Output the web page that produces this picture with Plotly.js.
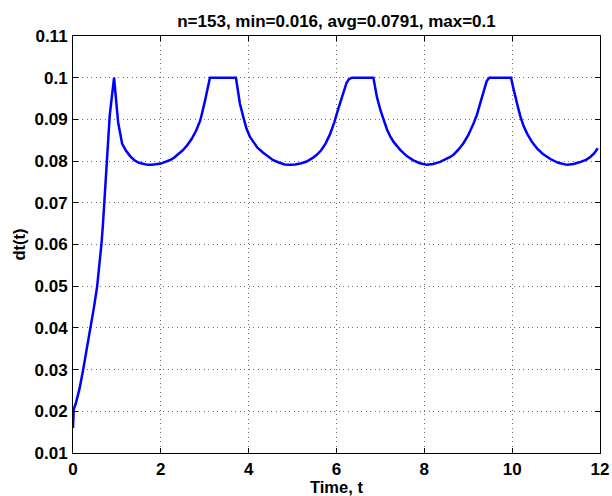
<!DOCTYPE html>
<html>
<head>
<meta charset="utf-8">
<script src="https://cdn.plot.ly/plotly-3.0.1.min.js"></script>
<style>
  html, body { margin: 0; padding: 0; background: #ffffff; }
  #chart { width: 612px; height: 496px; }
</style>
</head>
<body>
<div id="chart"></div>
<script>
// Time values (t)
var timeT = [
  0, 0.016, 0.062, 0.1, 0.15, 0.228, 0.31, 0.397, 0.475, 0.548, 0.60, 0.647, 0.68, 0.708, 0.738, 0.837, 0.935,
  1.026, 1.118, 1.2, 1.3, 1.4, 1.5, 1.6, 1.7, 1.8, 1.9, 2.0, 2.1, 2.2, 2.3, 2.4, 2.5, 2.6, 2.7, 2.8, 2.9, 3.0, 3.06, 3.118,
  3.71, 3.76, 3.80, 3.877, 3.95, 4.03, 4.1, 4.2, 4.33, 4.45, 4.56, 4.7, 4.82, 4.94, 5.06, 5.2, 5.32, 5.45, 5.55, 5.65, 5.75, 5.85, 5.95, 6.04, 6.14, 6.23, 6.28, 6.35,
  6.84, 6.88, 6.92, 7.0, 7.07, 7.15, 7.22, 7.3, 7.45, 7.6, 7.75, 7.9, 8.06, 8.2, 8.36, 8.5, 8.59, 8.67, 8.78, 8.89, 9.0, 9.12, 9.2, 9.27, 9.32, 9.37, 9.42, 9.48,
  9.975, 10.02, 10.07, 10.13, 10.19, 10.26, 10.34, 10.45, 10.57, 10.7, 10.87, 11.05, 11.25, 11.4, 11.56, 11.68, 11.78, 11.87, 11.95
];
// Step size dt(t)
var stepDt = [
  0.016, 0.0205, 0.0218, 0.0235, 0.0255, 0.0298, 0.0345, 0.0398, 0.0448, 0.0498, 0.0545, 0.060, 0.0645, 0.0698, 0.073, 0.091, 0.1,
  0.0894, 0.0842, 0.0826, 0.0812, 0.0802, 0.0796, 0.0793, 0.0791, 0.0791, 0.0792, 0.0794, 0.0798, 0.0802, 0.0808, 0.0816, 0.0826, 0.0838, 0.0853, 0.0872, 0.0898, 0.0942, 0.0968, 0.1,
  0.1, 0.0965, 0.0938, 0.0906, 0.0878, 0.0858, 0.0846, 0.0832, 0.082, 0.081, 0.0802, 0.0796, 0.0792, 0.0791, 0.0792, 0.0795, 0.0799, 0.0807, 0.0815, 0.0826, 0.0842, 0.0864, 0.0893, 0.0925, 0.0958, 0.0988, 0.0996, 0.1,
  0.1, 0.0978, 0.0954, 0.0922, 0.0898, 0.0876, 0.086, 0.0846, 0.0827, 0.0812, 0.0802, 0.0795, 0.0791, 0.0793, 0.0798, 0.0805, 0.081, 0.0816, 0.0828, 0.0843, 0.0862, 0.089, 0.0912, 0.0938, 0.0958, 0.0978, 0.0992, 0.1,
  0.1, 0.0978, 0.0954, 0.093, 0.0906, 0.0884, 0.0866, 0.0846, 0.083, 0.0817, 0.0805, 0.0796, 0.0791, 0.0793, 0.0798, 0.0803, 0.081, 0.0819, 0.0831
];
var xTicks = [0, 2, 4, 6, 8, 10, 12];
var yTicks = [0.01, 0.02, 0.03, 0.04, 0.05, 0.06, 0.07, 0.08, 0.09, 0.1, 0.11];
var yTickText = ['0.01', '0.02', '0.03', '0.04', '0.05', '0.06', '0.07', '0.08', '0.09', '0.1', '0.11'];
var chartTitle = 'n=153, min=0.016, avg=0.0791, max=0.1';
var xLabel = 'Time, t';
var yLabel = 'dt(t)';

var FONT = 'Liberation Sans, Arial, Helvetica, sans-serif';
var FS = 17;
var FS_LABEL = 16.5;

var trace = {
  x: timeT,
  y: stepDt,
  type: 'scatter',
  mode: 'lines',
  line: { color: '#0000ff', width: 2.5 },
  hoverinfo: 'skip'
};

var axisCommon = {
  showline: true,
  linecolor: '#000000',
  linewidth: 1,
  mirror: 'ticks',
  ticks: 'inside',
  ticklen: 5,
  tickwidth: 1,
  tickcolor: '#000000',
  showgrid: true,
  gridcolor: '#6e6e6e',
  griddash: '1px,3.5px',
  gridwidth: 1,
  zeroline: false,
  tickfont: { family: FONT, size: FS, color: '#000000', weight: 'bold' }
};

var layout = {
  width: 612,
  height: 496,
  paper_bgcolor: '#ffffff',
  plot_bgcolor: '#ffffff',
  margin: { l: 73, r: 12, t: 36, b: 43 },
  showlegend: false,
  title: {
    text: '<b>' + chartTitle + '</b>',
    font: { family: FONT, size: 17, color: '#000000' },
    x: 0.5, xref: 'paper', xanchor: 'center',
    y: 1 - 21 / 496, yref: 'container', yanchor: 'middle'
  },
  xaxis: Object.assign({}, axisCommon, {
    range: [0, 12],
    tickvals: xTicks,
    ticktext: xTicks.map(String),
    ticklabelstandoff: 1
  }),
  yaxis: Object.assign({}, axisCommon, {
    range: [0.01, 0.11],
    tickvals: yTicks,
    ticktext: yTickText,
    ticklabelstandoff: 1
  }),
  annotations: [
    {
      text: '<b>' + xLabel + '</b>',
      font: { family: FONT, size: FS_LABEL, color: '#000000' },
      xref: 'paper', x: 0.5, xanchor: 'center',
      yref: 'paper', y: (453 - 487.5) / 417, yanchor: 'middle',
      borderpad: 0,
      showarrow: false
    },
    {
      text: '<b>' + yLabel + '</b>',
      font: { family: FONT, size: FS_LABEL, color: '#000000' },
      xref: 'paper', x: (18 - 73) / 527, xanchor: 'center',
      yref: 'paper', y: 0.5, yanchor: 'middle',
      textangle: -90,
      showarrow: false
    }
  ]
};

Plotly.newPlot('chart', [trace], layout, { displayModeBar: false, staticPlot: true });
</script>
</body>
</html>
